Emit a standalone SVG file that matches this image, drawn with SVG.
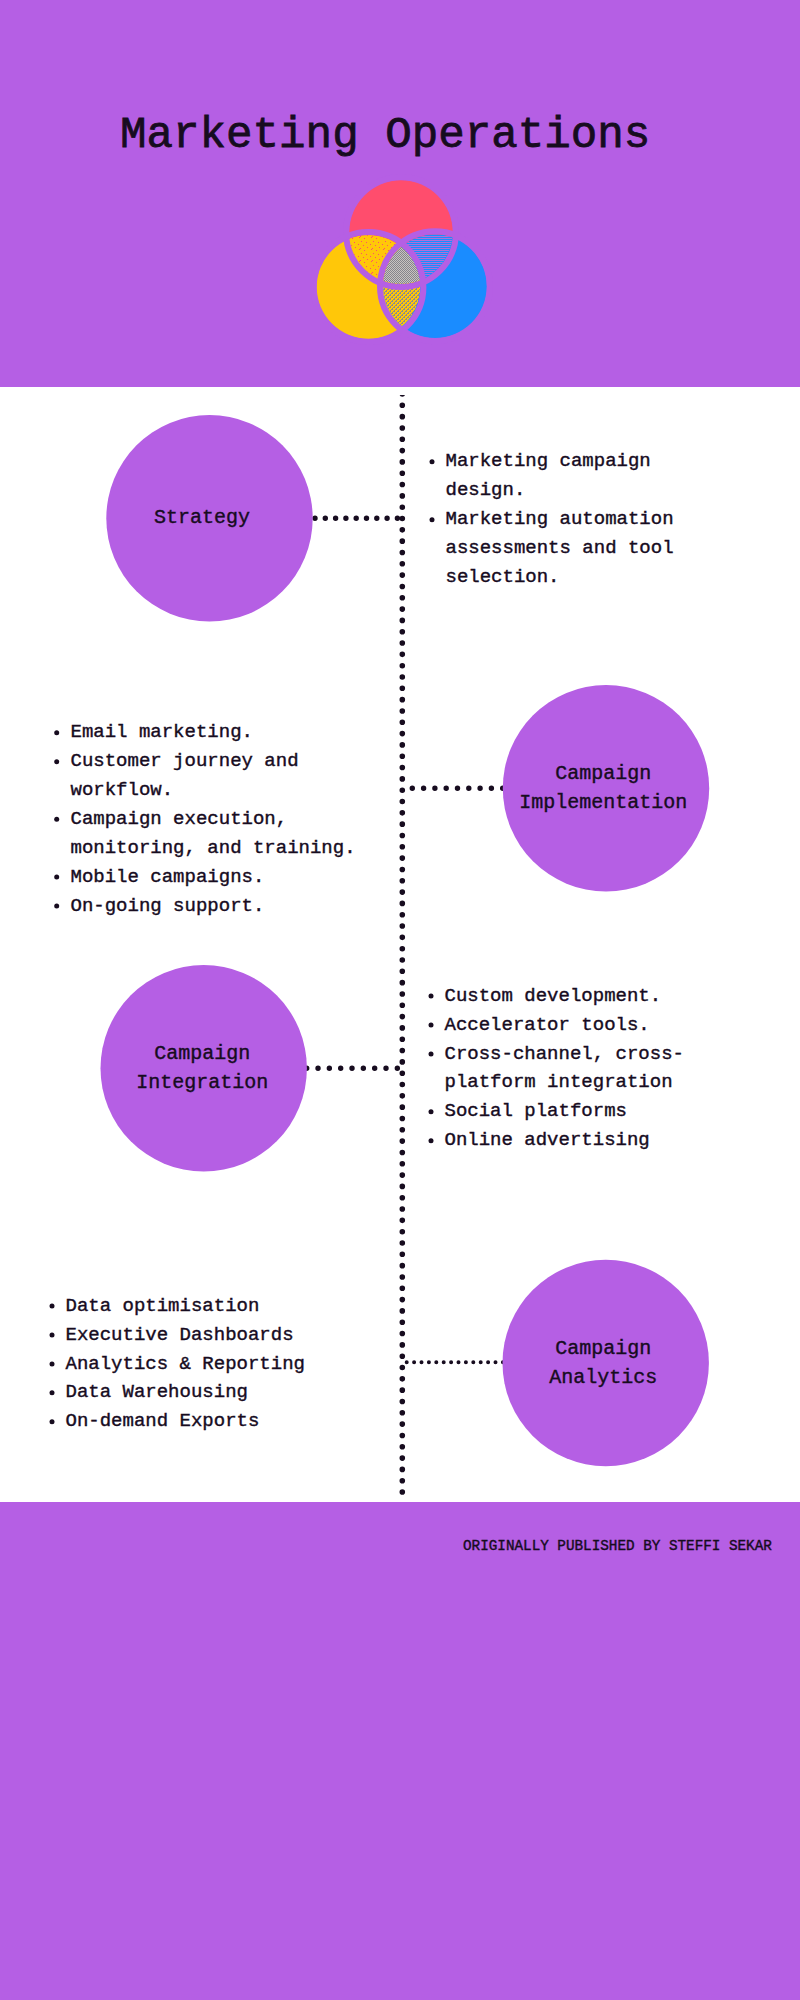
<svg xmlns="http://www.w3.org/2000/svg" width="800" height="2000" viewBox="0 0 800 2000">
<style>
.t{font-family:"Liberation Mono","DejaVu Sans Mono",monospace;fill:#170c1f;stroke:#170c1f;stroke-width:.4}
.li{font-size:19px}
.lb{font-size:20px;text-anchor:middle}
.node{fill:#b55fe4}
.bullet{fill:#170c1f}
.dots{fill:none;stroke:#170c1f;stroke-linecap:round}
.gap{fill:none;stroke:#b55fe4;stroke-width:6}
</style>
<defs>
<circle id="cr" cx="401" cy="232" r="51.7"/>
<circle id="cy" cx="368.4" cy="287" r="51.7"/>
<circle id="cb" cx="435" cy="286.3" r="51.7"/>
<clipPath id="inY"><use href="#cy"/></clipPath>
<clipPath id="inB"><use href="#cb"/></clipPath>
<clipPath id="inYB" clip-path="url(#inB)"><use href="#cy"/></clipPath>
<clipPath id="top"><rect x="390" y="395" width="25" height="1105"/></clipPath>
<pattern id="pRY" width="12" height="12" patternUnits="userSpaceOnUse"><rect width="12" height="12" fill="#ffc709"/><g fill="#ff4d6d"><rect x="1" y="1" width="1" height="1"/><rect x="6" y="2" width="1" height="1"/><rect x="10" y="4" width="1" height="1"/><rect x="3" y="5" width="1" height="1"/><rect x="7" y="7" width="1" height="1"/><rect x="0" y="8" width="1" height="1"/><rect x="11" y="9" width="1" height="1"/><rect x="4" y="10" width="1" height="1"/></g></pattern>
<pattern id="pRB" width="2" height="2" patternUnits="userSpaceOnUse"><rect width="2" height="2" fill="#1a8cff"/><rect width="2" height="1" fill="#b06fd8"/></pattern>
<pattern id="pYB" width="4" height="4" patternUnits="userSpaceOnUse"><rect width="4" height="4" fill="#ffc709"/><g fill="#8a8a90"><rect width="1" height="2"/><rect x="2" y="2" width="1" height="2"/><rect x="1" y="3" width="1" height="1"/><rect x="3" y="1" width="1" height="1"/></g></pattern>
<pattern id="pC" width="2" height="2" patternUnits="userSpaceOnUse"><rect width="2" height="2" fill="#c8c4c0"/><rect width="1" height="1" fill="#85858c"/><rect width="1" height="1" x="1" y="1" fill="#85858c"/></pattern>
</defs>
<rect width="800" height="2000" fill="#ffffff"/>
<rect id="band-top" width="800" height="387" fill="#b55fe4"/>
<rect id="band-bottom" y="1502" width="800" height="498" fill="#b55fe4"/>
<text id="title" class="t" x="120" y="147" font-size="44.2" style="stroke-width:.8">Marketing Operations</text>
<g id="venn">
<use href="#cr" fill="#ff4d6d"/>
<use href="#cy" fill="#ffc709"/>
<use href="#cb" fill="#1a8cff"/>
<use href="#cr" fill="url(#pRY)" clip-path="url(#inY)"/>
<use href="#cr" fill="url(#pRB)" clip-path="url(#inB)"/>
<use href="#cy" fill="url(#pYB)" clip-path="url(#inB)"/>
<use href="#cr" fill="url(#pC)" clip-path="url(#inYB)"/>
<circle class="gap" cx="401" cy="232" r="55"/>
<circle class="gap" cx="368.4" cy="287" r="55"/>
<circle class="gap" cx="435" cy="286.3" r="55"/>
</g>
<g id="connectors">
<line class="dots" x1="402.3" y1="394" x2="402.3" y2="1493" stroke-width="5.6" stroke-dasharray="0 11.32" clip-path="url(#top)"/>
<line class="dots" x1="315" y1="518.3" x2="398" y2="518.3" stroke-width="5.4" stroke-dasharray="0 10.3"/>
<line class="dots" x1="412.3" y1="788.3" x2="503" y2="788.3" stroke-width="5.4" stroke-dasharray="0 11.3"/>
<line class="dots" x1="306.7" y1="1068.3" x2="398" y2="1068.3" stroke-width="5.4" stroke-dasharray="0 11.33"/>
<line class="dots" x1="406.7" y1="1362.3" x2="503" y2="1362.3" stroke-width="4" stroke-dasharray="0 7.4"/>
</g>
<g id="strategy">
<circle class="node" cx="209.5" cy="518.3" r="103.2"/>
<text class="t lb" x="202" y="523">Strategy</text>
</g>
<g id="strategy-list">
<circle class="bullet" cx="432" cy="461.7" r="2.5"/>
<circle class="bullet" cx="432" cy="519.7" r="2.5"/>
<text class="t li" x="445.5" y="466.2">Marketing campaign</text>
<text class="t li" x="445.5" y="495.2">design.</text>
<text class="t li" x="445.5" y="524">Marketing automation</text>
<text class="t li" x="445.5" y="552.8">assessments and tool</text>
<text class="t li" x="445.5" y="581.7">selection.</text>
</g>
<g id="implementation">
<circle class="node" cx="606" cy="788.3" r="103.2"/>
<text class="t lb" x="603.3" y="778.7">Campaign</text>
<text class="t lb" x="603.3" y="807.7">Implementation</text>
</g>
<g id="implementation-list">
<circle class="bullet" cx="56.7" cy="732.7" r="2.5"/>
<circle class="bullet" cx="56.7" cy="761.7" r="2.5"/>
<circle class="bullet" cx="56.7" cy="819.3" r="2.5"/>
<circle class="bullet" cx="56.7" cy="877" r="2.5"/>
<circle class="bullet" cx="56.7" cy="906" r="2.5"/>
<text class="t li" x="70.5" y="737.2">Email marketing.</text>
<text class="t li" x="70.5" y="766.2">Customer journey and</text>
<text class="t li" x="70.5" y="794.9">workflow.</text>
<text class="t li" x="70.5" y="823.8">Campaign execution,</text>
<text class="t li" x="70.5" y="852.8">monitoring, and training.</text>
<text class="t li" x="70.5" y="881.5">Mobile campaigns.</text>
<text class="t li" x="70.5" y="910.5">On-going support.</text>
</g>
<g id="integration">
<circle class="node" cx="203.7" cy="1068.3" r="103.2"/>
<text class="t lb" x="202.3" y="1058.7">Campaign</text>
<text class="t lb" x="202.3" y="1087.7">Integration</text>
</g>
<g id="integration-list">
<circle class="bullet" cx="431" cy="996" r="2.5"/>
<circle class="bullet" cx="431" cy="1025" r="2.5"/>
<circle class="bullet" cx="431" cy="1054" r="2.5"/>
<circle class="bullet" cx="431" cy="1111.7" r="2.5"/>
<circle class="bullet" cx="431" cy="1140.7" r="2.5"/>
<text class="t li" x="444.5" y="1000.5">Custom development.</text>
<text class="t li" x="444.5" y="1029.5">Accelerator tools.</text>
<text class="t li" x="444.5" y="1058.5">Cross-channel, cross-</text>
<text class="t li" x="444.5" y="1087.2">platform integration</text>
<text class="t li" x="444.5" y="1116.2">Social platforms</text>
<text class="t li" x="444.5" y="1145.2">Online advertising</text>
</g>
<g id="analytics">
<circle class="node" cx="605.7" cy="1363" r="103.2"/>
<text class="t lb" x="603.2" y="1353.7">Campaign</text>
<text class="t lb" x="603.2" y="1382.7">Analytics</text>
</g>
<g id="analytics-list">
<circle class="bullet" cx="52" cy="1306" r="2.5"/>
<circle class="bullet" cx="52" cy="1335" r="2.5"/>
<circle class="bullet" cx="52" cy="1364" r="2.5"/>
<circle class="bullet" cx="52" cy="1392.7" r="2.5"/>
<circle class="bullet" cx="52" cy="1421.7" r="2.5"/>
<text class="t li" x="65.5" y="1310.5">Data optimisation</text>
<text class="t li" x="65.5" y="1339.5">Executive Dashboards</text>
<text class="t li" x="65.5" y="1368.5">Analytics &amp; Reporting</text>
<text class="t li" x="65.5" y="1397.2">Data Warehousing</text>
<text class="t li" x="65.5" y="1426.2">On-demand Exports</text>
</g>
<text id="credit" class="t" x="463" y="1550" font-size="14.3">ORIGINALLY PUBLISHED BY STEFFI SEKAR</text>
</svg>
